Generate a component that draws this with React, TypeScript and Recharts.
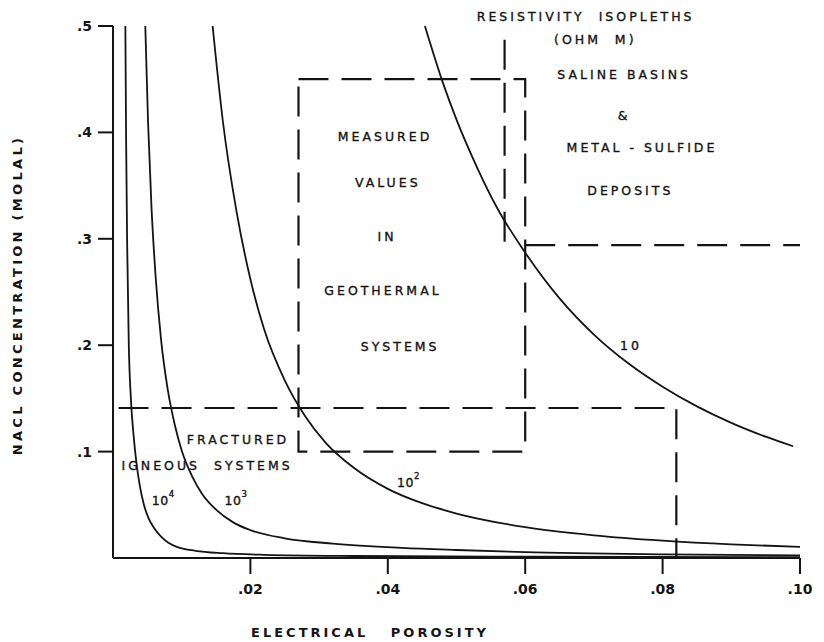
import { LineChart, Line, XAxis, YAxis, ReferenceDot } from "recharts";

const FONT = "'DejaVu Sans', sans-serif";
const INK = "#141414";

// Resistivity isopleths (ohm m): electrical porosity vs NaCl molality
const rho10X = [0.0454, 0.048, 0.05, 0.053, 0.056, 0.06, 0.065, 0.07, 0.075, 0.08, 0.085, 0.09, 0.095, 0.099];
const rho10Y = [0.5, 0.447, 0.412, 0.367, 0.328, 0.287, 0.244, 0.21, 0.183, 0.161, 0.1425, 0.127, 0.114, 0.105];

const rho100X = [0.0145, 0.016, 0.018, 0.02, 0.022, 0.025, 0.028, 0.031, 0.035, 0.04, 0.045, 0.05, 0.06, 0.07, 0.08, 0.09, 0.1];
const rho100Y = [0.5, 0.41, 0.325, 0.262, 0.215, 0.167, 0.133, 0.108, 0.085, 0.065, 0.0515, 0.0418, 0.029, 0.0213, 0.0163, 0.0128, 0.0104];

const rho1000X = [0.0047, 0.0051, 0.0056, 0.0062, 0.007, 0.008, 0.009, 0.01, 0.0115, 0.013, 0.015, 0.0175, 0.02, 0.025, 0.032, 0.042, 0.05, 0.06, 0.08, 0.1];
const rho1000Y = [0.5, 0.41, 0.33, 0.265, 0.205, 0.157, 0.125, 0.101, 0.077, 0.06, 0.0455, 0.0335, 0.0262, 0.0185, 0.0135, 0.0095, 0.0075, 0.0055, 0.0035, 0.0025];

const rho10000X = [0.0018, 0.0019, 0.00205, 0.0023, 0.0026, 0.003, 0.0034, 0.0039, 0.0045, 0.0052, 0.006, 0.007, 0.008, 0.0095, 0.012, 0.016, 0.022, 0.035, 0.06, 0.1];
const rho10000Y = [0.5, 0.4, 0.3, 0.2, 0.15, 0.115, 0.09, 0.068, 0.05, 0.037, 0.028, 0.02, 0.0145, 0.01, 0.0068, 0.0045, 0.003, 0.0019, 0.0012, 0.0008];

// Dashed outlines of the field regions
const geothermalBoxX = [0.027, 0.06, 0.06, 0.027, 0.027];
const geothermalBoxY = [0.45, 0.45, 0.1, 0.1, 0.45];
const innerEdgeX = [0.057, 0.057];
const innerEdgeY = [0.487, 0.294];
const salineFloorX = [0.06, 0.1];
const salineFloorY = [0.294, 0.294];
const fracturedX = [0.0008, 0.082, 0.082];
const fracturedY = [0.141, 0.141, 0];

const xTicks = [0.02, 0.04, 0.06, 0.08, 0.1];
const xTickLabels = [".02", ".04", ".06", ".08", ".10"];
const yTicks = [0.1, 0.2, 0.3, 0.4, 0.5];
const yTickLabels = [".1", ".2", ".3", ".4", ".5"];

// \u00a0 keeps the wide word gaps, svg collapses plain spaces
const noteText = [
  "RESISTIVITY\u00a0\u00a0ISOPLETHS", "(OHM\u00a0\u00a0M)", "SALINE BASINS", "&", "METAL - SULFIDE", "DEPOSITS",
  "MEASURED", "VALUES", "IN", "GEOTHERMAL", "SYSTEMS",
  "FRACTURED", "IGNEOUS\u00a0\u00a0SYSTEMS", "10", "10", "10", "10",
];
const noteSup = ["", "", "", "", "", "", "", "", "", "", "", "", "", "4", "3", "2", ""];
const noteX = [0.0688, 0.0702, 0.0744, 0.0744, 0.077, 0.0753, 0.0396, 0.04, 0.0399, 0.0393, 0.0418, 0.0182, 0.0137, 0.0073, 0.0179, 0.043, 0.0754];
const noteY = [0.509, 0.487, 0.454, 0.416, 0.386, 0.345, 0.396, 0.353, 0.302, 0.251, 0.199, 0.111, 0.0865, 0.0545, 0.0545, 0.0714, 0.2];

const toPoints = (xs: number[], ys: number[]) => xs.map((x, i) => ({ x, y: ys[i] }));

const curves = [
  toPoints(rho10X, rho10Y),
  toPoints(rho100X, rho100Y),
  toPoints(rho1000X, rho1000Y),
  toPoints(rho10000X, rho10000Y),
];

const dashed = [
  toPoints(geothermalBoxX, geothermalBoxY),
  toPoints(innerEdgeX, innerEdgeY),
  toPoints(salineFloorX, salineFloorY),
  toPoints(fracturedX, fracturedY),
];

function NoteLabel(props: any) {
  const vb = props.viewBox || {};
  const x = (vb.x ?? 0) + (vb.width ?? 0) / 2;
  const y = (vb.y ?? 0) + (vb.height ?? 0) / 2;
  return (
    <text
      x={x}
      y={y}
      textAnchor="middle"
      dominantBaseline="central"
      fontFamily={FONT}
      fontSize={12.5}
      letterSpacing={props.sup ? 0.5 : 3}
      fill={INK}
      stroke={INK}
      strokeWidth={0.35}
    >
      {props.text}
      {props.sup ? (
        <tspan dy={-6} fontSize={8.5}>
          {props.sup}
        </tspan>
      ) : null}
    </text>
  );
}

function XTitle() {
  return (
    <text x={370} y={632} textAnchor="middle" dominantBaseline="central" fontFamily={FONT} fontSize={13} fontWeight="bold" letterSpacing={3} fill={INK}>
      ELECTRICAL{"\u00a0\u00a0\u00a0"}POROSITY
    </text>
  );
}

function YTitle() {
  return (
    <text
      x={17}
      y={295}
      transform="rotate(-90 17 295)"
      textAnchor="middle"
      dominantBaseline="central"
      fontFamily={FONT}
      fontSize={13}
      fontWeight="bold"
      letterSpacing={3.3}
      fill={INK}
    >
      NACL CONCENTRATION (MOLAL)
    </text>
  );
}

const tickStyle = { fill: INK, fontSize: 14, fontWeight: "bold", fontFamily: FONT };

export default function App() {
  return (
    <div style={{ position: "absolute", left: 0, top: 0, width: 824, height: 642, background: "#fff" }}>
      <LineChart width={824} height={642} margin={{ top: 26, right: 24, left: 53, bottom: 44 }}>
        <XAxis
          type="number"
          dataKey="x"
          domain={[0, 0.1]}
          allowDataOverflow
          ticks={xTicks}
          tickFormatter={(v: number) => xTickLabels[xTicks.indexOf(v)] ?? ""}
          height={40}
          tickSize={16}
          tickMargin={10}
          stroke={INK}
          strokeWidth={2}
          tick={tickStyle}
          label={<XTitle />}
        />
        <YAxis
          type="number"
          dataKey="y"
          domain={[0, 0.5]}
          allowDataOverflow
          ticks={yTicks}
          tickFormatter={(v: number) => yTickLabels[yTicks.indexOf(v)] ?? ""}
          width={60}
          tickSize={15}
          tickMargin={6}
          stroke={INK}
          strokeWidth={2}
          tick={tickStyle}
          label={<YTitle />}
        />
        {curves.map((pts, i) => (
          <Line
            key={`curve-${i}`}
            data={pts}
            dataKey="y"
            type="monotone"
            stroke={INK}
            strokeWidth={1.8}
            dot={false}
            activeDot={false}
            isAnimationActive={false}
          />
        ))}
        {dashed.map((pts, i) => (
          <Line
            key={`dash-${i}`}
            data={pts}
            dataKey="y"
            type="linear"
            stroke={INK}
            strokeWidth={2.2}
            strokeDasharray="30 13"
            dot={false}
            activeDot={false}
            isAnimationActive={false}
          />
        ))}
        {noteText.map((t, i) => (
          <ReferenceDot
            key={`note-${i}`}
            x={noteX[i]}
            y={noteY[i]}
            r={0}
            fill="none"
            stroke="none"
            ifOverflow="visible"
            label={<NoteLabel text={t} sup={noteSup[i]} />}
          />
        ))}
      </LineChart>
    </div>
  );
}
